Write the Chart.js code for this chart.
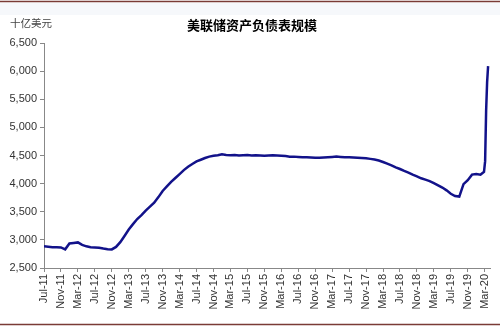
<!DOCTYPE html>
<html>
<head>
<meta charset="utf-8">
<script src="https://cdn.jsdelivr.net/npm/chart.js@4.4.1/dist/chart.umd.min.js"></script>
<style>
  html, body { margin: 0; padding: 0; background: #fff; }
  #wrap { width: 500px; height: 327px; }
</style>
</head>
<body>
<div id="wrap"><canvas id="myChart" width="500" height="327"></canvas></div>
<script>
const chartTitle = "美联储资产负债表规模";
const unitLabel = "十亿美元";

// monthly readings, weekly at the end (Mar 2020 jump)
const dates = [
  "2011-07", "2011-08", "2011-09", "2011-10", "2011-11", "2011-12",
  "2012-01", "2012-02", "2012-03", "2012-04", "2012-05", "2012-06", "2012-07", "2012-08", "2012-09", "2012-10", "2012-11", "2012-12",
  "2013-01", "2013-02", "2013-03", "2013-04", "2013-05", "2013-06", "2013-07", "2013-08", "2013-09", "2013-10", "2013-11", "2013-12",
  "2014-01", "2014-02", "2014-03", "2014-04", "2014-05", "2014-06", "2014-07", "2014-08", "2014-09", "2014-10", "2014-11", "2014-12",
  "2015-01", "2015-02", "2015-03", "2015-04", "2015-05", "2015-06", "2015-07", "2015-08", "2015-09", "2015-10", "2015-11", "2015-12",
  "2016-01", "2016-02", "2016-03", "2016-04", "2016-05", "2016-06", "2016-07", "2016-08", "2016-09", "2016-10", "2016-11", "2016-12",
  "2017-01", "2017-02", "2017-03", "2017-04", "2017-05", "2017-06", "2017-07", "2017-08", "2017-09", "2017-10", "2017-11", "2017-12",
  "2018-01", "2018-02", "2018-03", "2018-04", "2018-05", "2018-06", "2018-07", "2018-08", "2018-09", "2018-10", "2018-11", "2018-12",
  "2019-01", "2019-02", "2019-03", "2019-04", "2019-05", "2019-06", "2019-07", "2019-08", "2019-09", "2019-10", "2019-11", "2019-12",
  "2020-01", "2020-02", "2020-02-26", "2020-03-04", "2020-03-11", "2020-03-18", "2020-03-25"
];
const values = [
  2885, 2878, 2870, 2868, 2866, 2832,
  2935, 2945, 2955, 2910, 2885, 2870, 2866, 2860, 2845, 2832, 2830, 2875,
  2960, 3070, 3185, 3280, 3370, 3440, 3520, 3590, 3660, 3760, 3870, 3950,
  4030, 4100, 4170, 4240, 4300, 4350, 4395, 4425, 4455, 4480, 4495, 4505,
  4520, 4510, 4505, 4510, 4500, 4505, 4510, 4500, 4505, 4500, 4495, 4500,
  4505, 4500, 4495, 4490, 4480, 4480, 4475, 4470, 4470, 4465, 4460, 4460,
  4465, 4470, 4475, 4480, 4475, 4470, 4470, 4465, 4460, 4455, 4450, 4440,
  4430, 4410, 4385, 4355, 4325, 4290, 4260, 4225, 4195, 4160, 4130, 4095,
  4070, 4045, 4010, 3970, 3930, 3880, 3820, 3780, 3770, 3990, 4060, 4160,
  4170, 4160, 4210, 4400, 5290, 5800, 6090
];
const tickLabels = [
  "Jul-11", "Nov-11", "Mar-12", "Jul-12", "Nov-12", "Mar-13", "Jul-13", "Nov-13", "Mar-14",
  "Jul-14", "Nov-14", "Mar-15", "Jul-15", "Nov-15", "Mar-16", "Jul-16", "Nov-16", "Mar-17",
  "Jul-17", "Nov-17", "Mar-18", "Jul-18", "Nov-18", "Mar-19", "Jul-19", "Nov-19", "Mar-20"
];

// months counted from Jul-2011
function monthsFrom(d) {
  let p = d.split("-");
  let day = p[2] ? Number(p[2]) : 1;
  return (Number(p[0]) - 2011) * 12 + (Number(p[1]) - 7) + (day - 1) / 30;
}

const points = dates.map((d, i) => ({ x: monthsFrom(d), y: values[i] }));

const deco = {
  id: "deco",
  beforeDraw(chart) {
    const ctx = chart.ctx;
    ctx.save();
    ctx.fillStyle = "#fff";
    ctx.fillRect(0, 0, chart.width, chart.height);
    ctx.fillStyle = "#f6f8fb";
    ctx.fillRect(0, 3, chart.width, 12);
    ctx.strokeStyle = "#7a3b36";
    ctx.lineWidth = 1.5;
    ctx.beginPath();
    ctx.moveTo(0, 1.5);
    ctx.lineTo(chart.width, 1.5);
    ctx.moveTo(0, 324.5);
    ctx.lineTo(chart.width, 324.5);
    ctx.stroke();
    ctx.restore();
  },
  afterDraw(chart) {
    const ctx = chart.ctx;
    ctx.save();
    ctx.textBaseline = "middle";
    ctx.fillStyle = "#000";
    ctx.textAlign = "center";
    ctx.font = "bold 13px 'Noto Sans CJK SC'";
    ctx.fillText(chartTitle, 252, 25);
    ctx.fillStyle = "#444";
    ctx.textAlign = "left";
    ctx.font = "10.5px 'Noto Sans CJK SC'";
    ctx.fillText(unitLabel, 10, 23);
    ctx.restore();
  }
};

const ctx = document.getElementById("myChart").getContext("2d");
const myChart = new Chart(ctx, {
  type: "line",
  data: {
    datasets: [
      {
        data: points,
        borderColor: "#12128a",
        borderWidth: 2.5,
        pointRadius: 0,
        tension: 0,
        fill: false,
      },
    ],
  },
  options: {
    responsive: false,
    animation: false,
    devicePixelRatio: 1,
    layout: { padding: { top: 43, right: 7, left: 0, bottom: 0 } },
    plugins: {
      legend: { display: false },
      tooltip: { enabled: false },
    },
    scales: {
      x: {
        type: "linear",
        min: 0,
        max: 105.4,
        afterBuildTicks: (scale) => {
          scale.ticks = tickLabels.map((t, i) => ({ value: i * 4 }));
        },
        afterFit: (scale) => {
          scale.height = 59;
        },
        ticks: {
          autoSkip: false,
          maxRotation: 90,
          minRotation: 90,
          padding: 2,
          color: "#333",
          font: { family: "'Liberation Sans', Arial", size: 11 },
          callback: (v) => tickLabels[Math.round(v / 4)],
        },
        grid: { drawOnChartArea: false, tickLength: 4, color: "#888" },
        border: { color: "#888" },
      },
      y: {
        min: 2500,
        max: 6500,
        afterFit: (scale) => {
          scale.width = 44;
        },
        ticks: {
          stepSize: 500,
          padding: 3,
          color: "#333",
          font: { family: "'Liberation Sans', Arial", size: 11 },
        },
        grid: { drawOnChartArea: false, tickLength: 4, color: "#888" },
        border: { color: "#888" },
      },
    },
  },
  plugins: [deco],
});
</script>
</body>
</html>
